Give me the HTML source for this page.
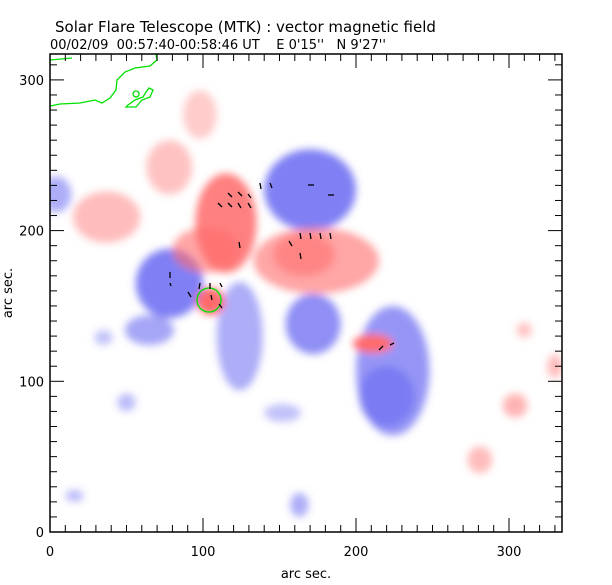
<!DOCTYPE html>
<html><head><meta charset="utf-8"><style>
body{margin:0;background:#fff;width:612px;height:585px;overflow:hidden}
svg{display:block;font-family:"DejaVu Sans","Liberation Sans",sans-serif}
</style></head><body>
<svg id="c" width="612" height="585">
<defs>
<filter id="bl" x="-50%" y="-50%" width="200%" height="200%"><feGaussianBlur stdDeviation="4"/></filter>
<clipPath id="pc"><rect x="50" y="54" width="512" height="478"/></clipPath>
</defs>
<text x="55" y="32" font-size="15" fill="#000">Solar Flare Telescope (MTK) : vector magnetic field</text>
<text x="50" y="49" font-size="13" fill="#000" xml:space="preserve" style="white-space:pre">00/02/09  00:57:40-00:58:46 UT    E 0'15''   N 9'27''</text>
<g id="blobs" clip-path="url(#pc)" filter="url(#bl)"></g>
<g id="marks" clip-path="url(#pc)"></g>
<rect x="50" y="54" width="512" height="478" fill="none" stroke="#000" stroke-width="1.5"/>
<g id="axes"></g>
<text x="306" y="578" font-size="13" text-anchor="middle">arc sec.</text>
<text x="12" y="293" font-size="13" text-anchor="middle" transform="rotate(-90 12 293)">arc sec.</text>
</svg>
<script>
const xTicks=[0,100,200,300];
const yTicks=[0,100,200,300];
// field regions: arcsec centre x, y, radii, polarity, strength
const blobX=[115,102,174,166,37,78,98,105,211,304,281,310,330,170,78,65,35,124,172,224,220,152,50,4,163,16];
const blobY=[205,187,180,184,209,242,277,153,125,84,48,134,110,227,165,134,129,130,138,107,90,79,86,224,18,24];
const blobRX=[20,22,41,20,22,15,11,9,13,8,8,5,5,30,22,16,6,15,18,24,18,12,6,10,6,6];
const blobRY=[33,15,22,14,17,18,16,9,6,8,9,5,8,27,23,10,5,36,20,43,20,6,6,12,8,4];
const blobPol=[1,1,1,1,1,1,1,1,1,1,1,1,1,-1,-1,-1,-1,-1,-1,-1,-1,-1,-1,-1,-1,-1];
const blobStr=[0.85,0.6,0.6,0.55,0.45,0.4,0.35,1,1,0.5,0.45,0.4,0.45,0.85,0.85,0.6,0.4,0.55,0.75,0.7,0.6,0.4,0.45,0.55,0.55,0.45];
const X0=50,SX=1.53,Y0=532,SY=1.507;
const sx=v=>X0+v*SX, sy=v=>Y0-v*SY;
const NS="http://www.w3.org/2000/svg";
const bg=document.getElementById('blobs');
const order=blobX.map((_,i)=>i).sort((a,b)=>blobPol[a]-blobPol[b]);
order.forEach(i=>{
 const e=document.createElementNS(NS,'ellipse');
 e.setAttribute('cx',sx(blobX[i]));e.setAttribute('cy',sy(blobY[i]));
 e.setAttribute('rx',blobRX[i]*SX);e.setAttribute('ry',blobRY[i]*SY);
 e.setAttribute('fill',blobPol[i]>0?'#ff6a6a':'#6a6af2');
 e.setAttribute('opacity',blobStr[i]);
 
 
 bg.appendChild(e);
});
const mk=document.getElementById('marks');
const green=document.createElementNS(NS,'path');
green.setAttribute('d','M50,106 L60,104 L80,103 L95,100 L102,103 L110,98 L116,90 L117,80 L125,72 L135,68 L150,66 L157,60 L156,54 M50,60 L72,58 M126,107 L136,107 L142,100 L150,97 L153,90 L149,88 L146,92 L143,97 L135,100 L128,105 Z M136,91 a3,3 0 1,0 0.1,0');
green.setAttribute('fill','none');green.setAttribute('stroke','#00e000');green.setAttribute('stroke-width','1.3');


mk.appendChild(green);
const gc=document.createElementNS(NS,'circle');
gc.setAttribute('cx',209);gc.setAttribute('cy',300);gc.setAttribute('r',12);
gc.setAttribute('fill','none');gc.setAttribute('stroke','#00e000');gc.setAttribute('stroke-width','1.3');


mk.appendChild(gc);
const vecs=[[218,203,222,207],[228,203,232,207],[238,203,241,208],[248,203,251,208],[228,193,232,197],[238,192,242,196],[248,194,251,198],[260,183,261,189],[270,183,272,188],[289,241,292,246],[300,233,301,239],[310,233,311,239],[320,233,321,239],[330,233,331,239],[300,253,301,259],[308,185,314,185],[328,195,334,195],[170,272,170,278],[170,283,171,286],[188,292,191,297],[200,283,199,289],[210,283,210,289],[220,283,222,287],[211,295,212,300],[219,304,222,308],[239,242,240,248],[379,350,383,346],[390,345,394,343]];
vecs.forEach(v=>{const l=document.createElementNS(NS,'line');
 l.setAttribute('x1',v[0]);l.setAttribute('y1',v[1]);l.setAttribute('x2',v[2]);l.setAttribute('y2',v[3]);
 l.setAttribute('stroke','#000');l.setAttribute('stroke-width','1.3');
 
 
 mk.appendChild(l);});
const ax=document.getElementById('axes');
function line(x1,y1,x2,y2,n){const l=document.createElementNS(NS,'line');
 l.setAttribute('x1',x1);l.setAttribute('y1',y1);l.setAttribute('x2',x2);l.setAttribute('y2',y2);
 l.setAttribute('stroke','#000');l.setAttribute('stroke-width','1');
 
 
 ax.appendChild(l);}
function txt(x,y,s,a,n){const t=document.createElementNS(NS,'text');
 t.setAttribute('x',x);t.setAttribute('y',y);t.setAttribute('font-size','13');t.setAttribute('text-anchor',a);t.textContent=s;
 
 
 ax.appendChild(t);}
for(let v=0;v<=335;v+=10){const big=v%100===0,L=big?14:7;
 line(sx(v),532,sx(v),532-L,'x-tick');line(sx(v),54,sx(v),54+L,'x-tick-top');}
for(let v=0;v<=315;v+=10){const big=v%100===0,L=big?14:7;
 line(50,sy(v),50+L,sy(v),'y-tick');line(562,sy(v),562-L,sy(v),'y-tick-right');}
xTicks.forEach(v=>txt(sx(v),556,String(v),'middle','x-tick-label'));
yTicks.forEach(v=>txt(44,sy(v)+5,String(v),'end','y-tick-label'));
</script>
</body></html>
